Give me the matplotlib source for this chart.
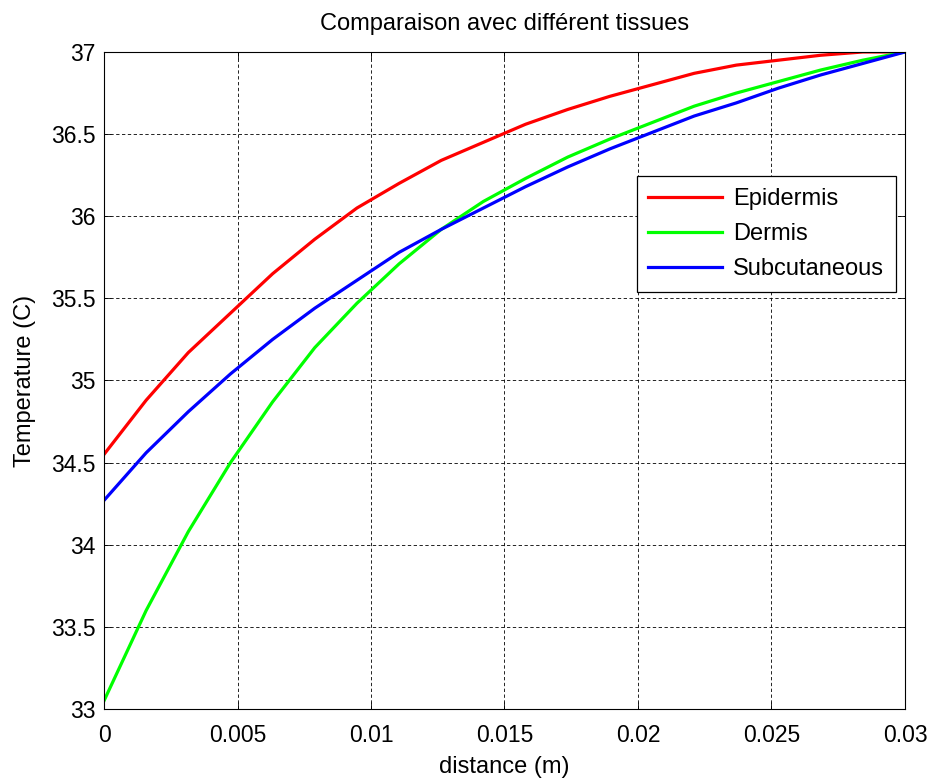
import numpy as np
import matplotlib
matplotlib.use("Agg")
import matplotlib.pyplot as plt

# distance (m), 20 samples
distance = np.linspace(0, 0.03, 20)

epidermis = [34.55, 34.88, 35.17, 35.41, 35.65, 35.86, 36.05, 36.20, 36.34, 36.45,
             36.56, 36.65, 36.73, 36.80, 36.87, 36.92, 36.95, 36.98, 37.00, 37.00]
dermis = [33.05, 33.60, 34.08, 34.50, 34.87, 35.20, 35.47, 35.71, 35.92, 36.09,
          36.23, 36.36, 36.47, 36.57, 36.67, 36.75, 36.82, 36.89, 36.95, 37.00]
subcutaneous = [34.27, 34.56, 34.81, 35.04, 35.25, 35.44, 35.61, 35.78, 35.92, 36.05,
                36.18, 36.30, 36.41, 36.51, 36.61, 36.69, 36.78, 36.86, 36.93, 37.00]

xticks = [0, 0.005, 0.01, 0.015, 0.02, 0.025, 0.03]
xticklabels = ["0", "0.005", "0.01", "0.015", "0.02", "0.025", "0.03"]
yticks = [33, 33.5, 34, 34.5, 35, 35.5, 36, 36.5, 37]
yticklabels = ["33", "33.5", "34", "34.5", "35", "35.5", "36", "36.5", "37"]

plt.rcParams['font.family'] = ['Liberation Sans', 'DejaVu Sans']

fig = plt.figure(figsize=(9.32, 7.78), dpi=100)
ax = fig.add_axes([0.1116, 0.0887, 0.8594, 0.8445])

ax.plot(distance, epidermis, color='#ff0000', lw=2.3, label='Epidermis')
ax.plot(distance, dermis, color='#00ff00', lw=2.3, label='Dermis')
ax.plot(distance, subcutaneous, color='#0000ff', lw=2.3, label='Subcutaneous')

ax.set_xlim(0, 0.03)
ax.set_ylim(33, 37)
ax.set_xticks(xticks)
ax.set_xticklabels(xticklabels)
ax.set_yticks(yticks)
ax.set_yticklabels(yticklabels)
ax.tick_params(labelsize=16.5, direction='in', length=5, width=0.6,
               top=True, right=True)
ax.tick_params(axis='x', pad=11)
ax.tick_params(axis='y', pad=6)
ax.grid(True, color='black', linestyle=(0, (4, 3)), linewidth=0.6)
for s in ax.spines.values():
    s.set_linewidth(0.8)

ax.set_xlabel('distance (m)', fontsize=17, labelpad=6)
ax.set_ylabel('Temperature (C)', fontsize=17, labelpad=11)
ax.set_title('Comparaison avec différent tissues', fontsize=17, pad=16)

leg = ax.legend(loc='upper right', bbox_to_anchor=(0.989, 0.811), fontsize=17,
                fancybox=False, edgecolor='black', framealpha=1,
                handlelength=3.1, handletextpad=0.5, borderpad=0.5,
                labelspacing=0.56, borderaxespad=0)
leg.get_frame().set_linewidth(0.9)

fig.savefig('out.png', dpi=100)
